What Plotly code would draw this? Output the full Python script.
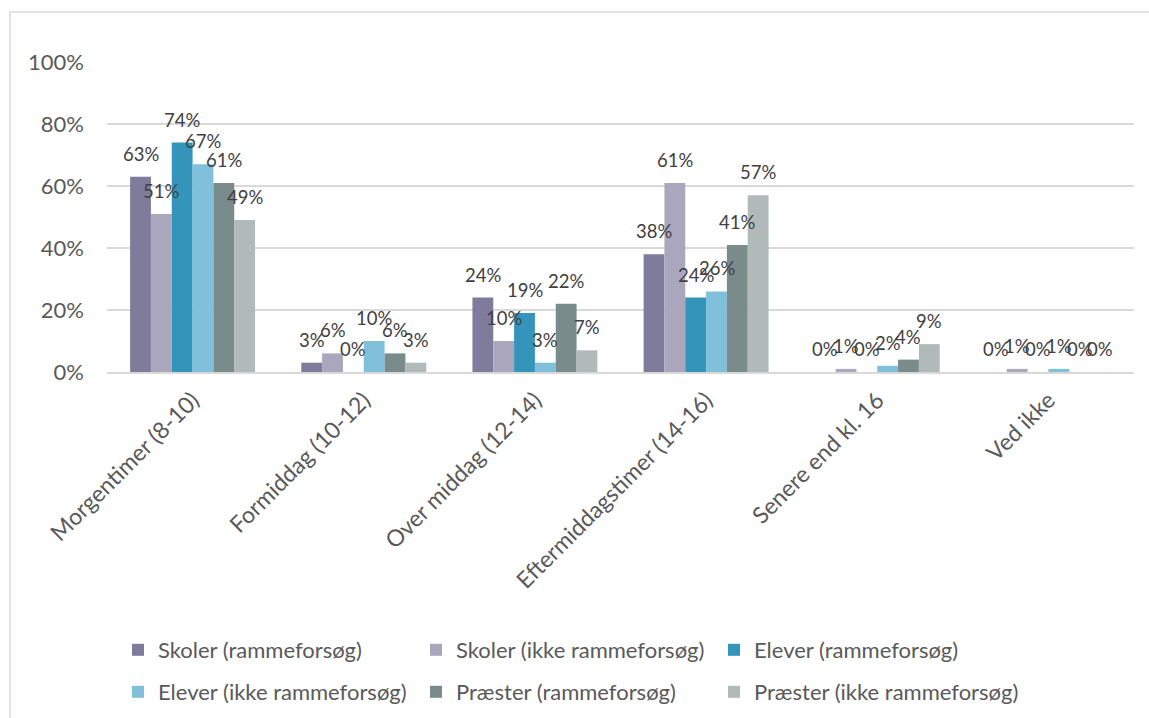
import plotly.graph_objects as go

categories = ["Morgentimer (8-10)", "Formiddag (10-12)", "Over middag (12-14)",
              "Eftermiddagstimer (14-16)", "Senere end kl. 16", "Ved ikke"]

skoler_ramme = [63, 3, 24, 38, 0, 0]
skoler_ikke = [51, 6, 10, 61, 1, 1]
elever_ramme = [74, 0, 19, 24, 0, 0]
elever_ikke = [67, 10, 3, 26, 2, 1]
praester_ramme = [61, 6, 22, 41, 4, 0]
praester_ikke = [49, 3, 7, 57, 9, 0]

series_names = ["Skoler (rammeforsøg)", "Skoler (ikke rammeforsøg)", "Elever (rammeforsøg)",
                "Elever (ikke rammeforsøg)", "Præster (rammeforsøg)", "Præster (ikke rammeforsøg)"]
series_values = [skoler_ramme, skoler_ikke, elever_ramme, elever_ikke, praester_ramme, praester_ikke]
colors = ["#7f7b9b", "#aaa7bd", "#3494ba", "#80c0db", "#7a8b8c", "#afbab9"]

y_ticks = [0, 20, 40, 60, 80, 100]
y_tick_labels = [f"{v}%" for v in y_ticks]

FONT = "Lato, Calibri, Carlito, sans-serif"
W, H = 1149, 718
ML, MR, MT, MB = 107, 15, 62, 346
BARGAP = 0.27
n = len(series_names)
bw = (1 - BARGAP) / n
x_idx = list(range(len(categories)))

pw = W - ML - MR
ph = H - MT - MB


def px_x(p):
    return (p - ML) / pw


def px_y(p):
    return (H - MB - p) / ph


legend_cols_px = [118, 416, 714]
legend_rows_px = [650, 692]

fig = go.Figure()
annotations = []
legend_layouts = {}
for k, (name, vals, col) in enumerate(zip(series_names, series_values, colors)):
    leg_id = "legend" if k == 0 else f"legend{k + 1}"
    fig.add_trace(go.Bar(
        x=x_idx, y=vals, name=name, marker=dict(color=col, line=dict(width=0)),
        legend=leg_id,
    ))
    legend_layouts[leg_id] = dict(
        orientation="h", x=px_x(legend_cols_px[k % 3]), y=px_y(legend_rows_px[k // 3]),
        font=dict(family=FONT, size=22, color="#595959"),
        bgcolor="rgba(0,0,0,0)", xanchor="left", yanchor="middle",
        itemclick=False, itemdoubleclick=False,
    )
    for i, v in enumerate(vals):
        annotations.append(dict(
            x=i + (k - (n - 1) / 2) * bw, y=v, xref="x", yref="y",
            text=f"{v}%", showarrow=False, yanchor="middle", yshift=23,
            font=dict(family=FONT, size=18.5, color="#404040"),
        ))

shapes = [dict(type="rect", xref="paper", yref="paper",
               x0=px_x(10), x1=px_x(1170), y0=px_y(740), y1=px_y(12),
               line=dict(color="#d9d9d9", width=1.5), fillcolor="rgba(0,0,0,0)", layer="below")]

fig.update_layout(
    width=W, height=H,
    margin=dict(l=ML, r=MR, t=MT, b=MB, autoexpand=False),
    paper_bgcolor="white", plot_bgcolor="white",
    barmode="group", bargap=BARGAP, bargroupgap=0,
    font=dict(family=FONT, size=20, color="#595959"),
    xaxis=dict(tickmode="array", tickvals=x_idx, ticktext=categories, range=[-0.5, len(categories) - 0.5],
               tickangle=-45, showgrid=False, showline=True, linecolor="#d9d9d9", linewidth=1.5,
               ticks="", ticklabelstandoff=4, tickfont=dict(family=FONT, size=23, color="#595959"),
               fixedrange=True),
    yaxis=dict(range=[0, 100], tickmode="array", tickvals=y_ticks, ticktext=y_tick_labels,
               showgrid=True, gridcolor="#d9d9d9",
               gridwidth=1.5, zeroline=False, showline=False, ticks="", ticklabelstandoff=22,
               tickfont=dict(family=FONT, size=22, color="#595959"), fixedrange=True),
    annotations=annotations,
    shapes=shapes,
    showlegend=True,
    **legend_layouts,
)

fig.write_html("out.html", config={"displayModeBar": False},
               post_script="document.body.style.margin='0';document.body.style.overflow='hidden';")
